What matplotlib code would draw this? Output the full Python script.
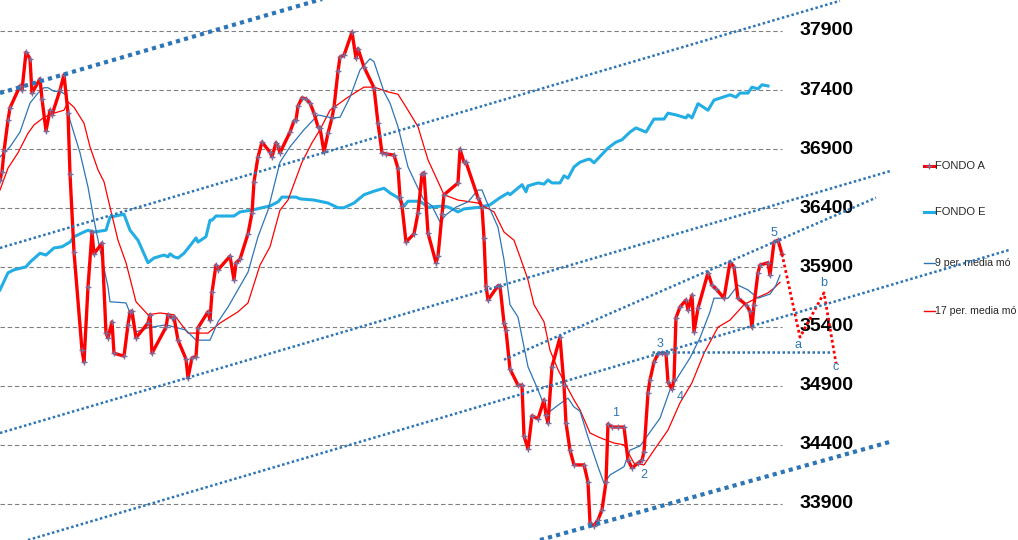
import matplotlib
matplotlib.use("Agg")
import matplotlib.pyplot as plt

# ── data (session index, index level) ────────────────────────────────
days_a = [0, 1, 2, 4, 5, 10, 11, 13, 15, 16, 20, 21, 23, 25, 26, 30, 32, 34, 35, 37,
          41, 42, 44, 46, 47, 51, 53, 54, 56, 57, 62, 64, 65, 66, 68, 74, 75, 76, 83, 84,
          86, 87, 89, 93, 94, 96, 98, 99, 104, 105, 106, 108, 109, 115, 117, 118, 120, 124, 126, 127,
          129, 131, 135, 136, 138, 139, 140, 145, 147, 148, 149, 151, 153, 155, 157, 159, 160, 162, 164, 166,
          167, 169, 170, 172, 176, 178, 179, 182, 187, 189, 191, 193, 197, 199, 200, 201, 203, 207, 209, 211,
          212, 214, 218, 219, 221, 222, 229, 230, 232, 233, 239, 241, 242, 243, 244, 249, 250, 252, 253, 255,
          259, 261, 262, 264, 266, 269, 272, 273, 274, 276, 280, 282, 283, 285, 287, 292, 294, 295, 297, 299,
          301, 303, 304, 306, 309, 312, 314, 316, 319, 321, 322, 324, 325, 327, 329, 331, 333, 334, 336, 337,
          338, 340, 343, 344, 346, 347, 349, 354, 356, 358, 362, 365, 367, 369, 373, 375, 376, 377, 379, 380,
          384, 385, 387, 389, 391]
fondo_a = [36640, 36705, 36885, 37145, 37250, 37435, 37400, 37720, 37665, 37375, 37495, 37325, 37055, 37230, 37190, 37400, 37530, 37205, 36690, 36030,
           35200, 35100, 35735, 36200, 36015, 36105, 35345, 35305, 35440, 35175, 35150, 35415, 35525, 35530, 35305, 35430, 35500, 35175, 35395, 35500,
           35475, 35480, 35285, 35125, 34965, 35135, 35145, 35390, 35525, 35455, 35690, 35920, 35880, 35995, 35795, 35940, 35970, 36185, 36360, 36625,
           36835, 36960, 36875, 36835, 36955, 36925, 36870, 37045, 37140, 37145, 37265, 37335, 37325, 37290, 37205, 37090, 37080, 36875, 37035, 37165,
           37255, 37560, 37680, 37695, 37890, 37670, 37750, 37595, 37420, 37120, 36870, 36860, 36850, 36740, 36495, 36420, 36115, 36185, 36360, 36690,
           36700, 36190, 35940, 35995, 36350, 36515, 36615, 36900, 36790, 36790, 36490, 36410, 36150, 35745, 35625, 35745, 35745, 35430, 35370, 35040,
           34905, 34905, 34475, 34365, 34645, 34620, 34780, 34650, 34585, 35060, 35310, 34905, 34585, 34355, 34230, 34230, 34085, 33740, 33715, 33765,
           33850, 34085, 34575, 34550, 34550, 34550, 34270, 34205, 34245, 34270, 34340, 34840, 34950, 35100, 35170, 35175, 35170, 34930, 34870, 34950,
           35475, 35565, 35625, 35540, 35665, 35355, 35555, 35855, 35750, 35720, 35640, 35945, 35905, 35640, 35585, 35530, 35395, 35585, 35855, 35920,
           35940, 35835, 36115, 36130, 36015]

days_e = [0, 4, 7, 13, 15, 20, 23, 27, 31, 35, 37, 42, 44, 47, 53, 55, 62, 65, 69, 74,
          77, 82, 84, 85, 87, 89, 92, 96, 98, 99, 103, 105, 106, 108, 117, 120, 126, 131, 135, 139,
          141, 148, 150, 157, 164, 169, 172, 177, 182, 187, 192, 195, 199, 202, 204, 210, 214, 222, 225, 229,
          232, 240, 245, 250, 254, 255, 261, 263, 264, 269, 272, 274, 276, 280, 282, 284, 287, 290, 294, 295,
          297, 304, 308, 311, 315, 318, 323, 327, 332, 334, 338, 343, 344, 346, 349, 354, 357, 365, 368, 370,
          374, 376, 379, 381, 384]
fondo_e = [35710, 35855, 35880, 35905, 35945, 36020, 36005, 36065, 36075, 36115, 36160, 36200, 36215, 36200, 36215, 36325, 36350, 36215, 36130, 35940,
           35980, 36005, 35990, 36015, 35990, 35980, 36020, 36105, 36150, 36115, 36160, 36300, 36300, 36335, 36335, 36370, 36385, 36405, 36420, 36455,
           36495, 36495, 36480, 36470, 36445, 36405, 36405, 36445, 36515, 36545, 36570, 36530, 36490, 36420, 36460, 36460, 36410, 36420, 36405, 36370,
           36395, 36410, 36430, 36490, 36530, 36515, 36600, 36540, 36590, 36615, 36605, 36640, 36615, 36615, 36675, 36655, 36750, 36790, 36815, 36815,
           36785, 36910, 36960, 36980, 37045, 37080, 37045, 37155, 37155, 37205, 37190, 37165, 37190, 37165, 37285, 37230, 37315, 37360, 37340, 37375,
           37375, 37425, 37410, 37445, 37435]

days_ma9 = [0, 5, 10, 15, 19, 22, 24, 27, 30, 33, 35, 40, 44, 47, 50, 54, 55, 63, 65, 68,
            74, 83, 93, 98, 105, 109, 114, 124, 129, 134, 140, 145, 152, 159, 166, 170, 175, 180, 185, 187,
            192, 195, 199, 204, 209, 212, 216, 220, 223, 228, 234, 239, 241, 243, 249, 252, 255, 259, 264, 269,
            272, 274, 279, 284, 287, 290, 294, 299, 302, 305, 312, 315, 320, 323, 330, 335, 339, 345, 350, 355,
            357, 364, 369, 374, 379, 385, 388, 390]
ma9 = [36835, 36920, 37045, 37290, 37375, 37420, 37420, 37390, 37390, 37360, 37145, 36870, 36580, 36300, 36050, 35735, 35610, 35600, 35515, 35355,
       35390, 35415, 35370, 35285, 35285, 35440, 35565, 35860, 36160, 36385, 36790, 36920, 37065, 37190, 37165, 37170, 37340, 37570, 37665, 37640,
       37385, 37290, 37090, 36750, 36570, 36470, 36420, 36285, 36345, 36410, 36455, 36555, 36555, 36470, 36240, 35965, 35585, 35480, 35060, 34865,
       34735, 34670, 34735, 34795, 34720, 34685, 34465, 34215, 34075, 34145, 34215, 34355, 34390, 34460, 34625, 34865, 34975, 35135, 35305, 35525,
       35640, 35640, 35750, 35710, 35640, 35675, 35750, 35835]

days_ma17 = [0, 4, 9, 14, 17, 22, 27, 32, 34, 37, 42, 45, 49, 52, 55, 59, 63, 68, 74, 80,
             87, 94, 104, 110, 119, 124, 130, 135, 140, 144, 151, 156, 160, 165, 174, 182, 187, 194, 199, 204,
             209, 214, 217, 222, 229, 239, 247, 252, 257, 260, 264, 267, 272, 275, 279, 283, 287, 290, 295, 300,
             307, 312, 317, 322, 327, 334, 340, 346, 352, 359, 365, 372, 378, 384, 387, 390]
ma17 = [36555, 36740, 36870, 37035, 37105, 37170, 37205, 37230, 37300, 37255, 37120, 36920, 36725, 36625, 36410, 36130, 35940, 35610, 35500, 35515,
        35500, 35345, 35345, 35430, 35525, 35600, 35920, 36075, 36385, 36470, 36790, 36955, 37065, 37230, 37340, 37425, 37425, 37385, 37365, 37230,
        37090, 36810, 36700, 36515, 36470, 36445, 36370, 36200, 36130, 35990, 35795, 35585, 35440, 35200, 35035, 34905, 34780, 34695, 34500, 34460,
        34415, 34400, 34245, 34230, 34355, 34525, 34755, 34925, 35175, 35395, 35455, 35585, 35640, 35685, 35725, 35775]

# projected a-b-c correction after wave 5
proj_days = [391, 400, 412, 418]
proj_vals = [36015, 35310, 35685, 35090]

wave_labels = ["1", "2", "3", "4", "5", "a", "b", "c"]
wave_days = [308, 322, 330, 340, 387, 399, 412, 418]
wave_vals = [34670, 34145, 35255, 34805, 36190, 35245, 35770, 35060]

# channel lines drawn by hand on the chart: (day0, val0, day1, val1, thick)
channels = [
    (0, 37375, 165, 38190, True),
    (0, 36065, 420, 38155, False),
    (0, 34500, 445, 36715, False),
    (252, 35120, 438, 36490, False),
    (14, 33595, 505, 36050, False),
    (270, 33595, 445, 34425, True),
    (326, 35185, 415, 35185, False),
]

y_ticks = [33900, 34400, 34900, 35400, 35900, 36400, 36900, 37400, 37900]
# the two moving-average labels run off the right edge in the original
legend_labels = ["FONDO A", "FONDO E", "9 per. media mó", "17 per. media mó"]

RED = "#FF0000"
CYAN = "#22AEE4"
BLUE = "#2E75B6"
MARK = "#7B6C9B"

fig = plt.figure(figsize=(10.18, 5.4), dpi=100)
ax = fig.add_axes([0, 0, 1, 1])
ax.set_xlim(0, 509)
ax.set_ylim(33595, 38162)
ax.axis("off")

# gridlines only across the plot area
ax.hlines(y_ticks, 0, 391, colors="#808080", linewidth=0.8,
          linestyles=(0, (4, 2.5)), zorder=1)
for v in y_ticks:
    ax.text(400, v, f"{v}", ha="left", va="center", fontsize=14,
            fontweight="bold", family="Liberation Sans", color="black")

ax.plot(days_e, fondo_e, color=CYAN, lw=2.2, zorder=3)
ax.plot(days_ma17, ma17, color=RED, lw=0.9, zorder=4)
ax.plot(days_ma9, ma9, color=BLUE, lw=0.9, zorder=4)
ax.plot(days_a, fondo_a, color=RED, lw=2.4, marker="+", ms=5,
        mec=MARK, mew=1.0, zorder=5)
ax.plot(proj_days, proj_vals, color=RED, lw=2.0, ls=(0, (1, 1)), zorder=5)

for d0, v0, d1, v1, thick in channels:
    ax.plot([d0, d1], [v0, v1], color=BLUE, lw=3.0 if thick else 1.8,
            ls=(0, (1, 1)), zorder=6, solid_capstyle="butt")

for lab, d, v in zip(wave_labels, wave_days, wave_vals):
    ax.text(d, v, lab, ha="center", va="center", fontsize=9,
            family="Liberation Sans", color=BLUE, zorder=7)

# legend drawn on the right
leg_y = [36760, 36365, 35940, 35535]
leg_size = [8, 8, 7.6, 7.6]
styles = [dict(color=RED, lw=2.2), dict(color=CYAN, lw=2.2),
          dict(color=BLUE, lw=1.0), dict(color=RED, lw=1.0)]
for i, (lab, v, st) in enumerate(zip(legend_labels, leg_y, styles)):
    ax.plot([462, 467.5], [v, v], **st)
    if i == 0:
        ax.plot([464.75], [v], marker="+", ms=5, mec=MARK, mew=1.0)
    ax.text(467.5, v, lab, ha="left", va="center", fontsize=leg_size[i],
            family="Liberation Sans", color="#262626")

fig.savefig("out.png", dpi=100)
